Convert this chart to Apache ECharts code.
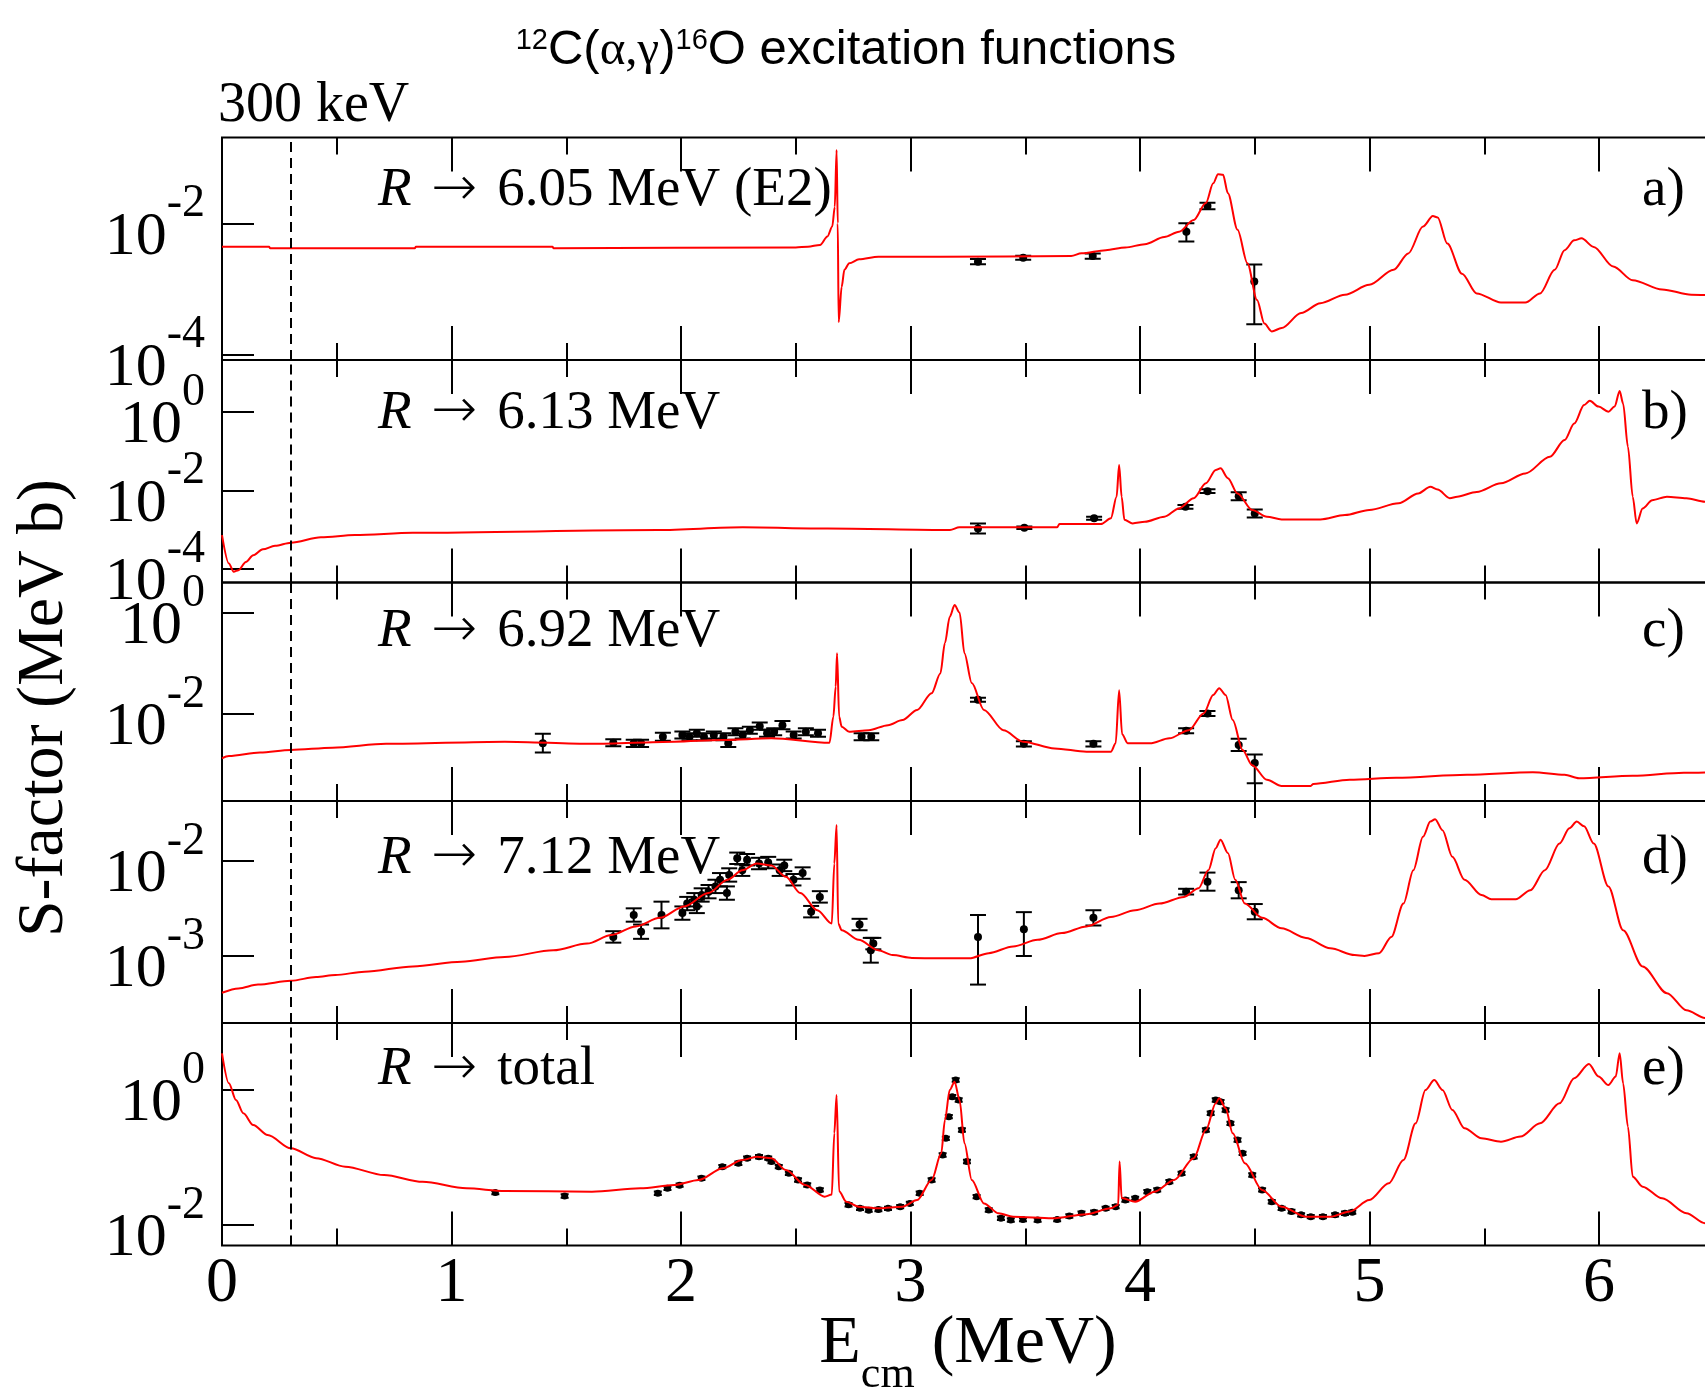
<!DOCTYPE html>
<html>
<head>
<meta charset="utf-8">
<script src="https://cdn.jsdelivr.net/npm/echarts@6/dist/echarts.min.js"></script>
<style>
  html, body { margin: 0; padding: 0; background: #fff; }
  #chart { width: 1705px; height: 1390px; }
</style>
</head>
<body>
<div id="chart"></div>
<script>
// R-matrix excitation functions for 12C(a,g)16O, one panel per final state.
// Curves and data points: [Ecm (MeV), log10 S (MeV b)]; points carry [.., err-, err+] in decades.

const curveA = [
  [0, -2.357], [0.205, -2.357], [0.21, -2.38], [0.84, -2.38], [0.845, -2.357], [1.44, -2.357],
  [1.445, -2.38], [2.5, -2.37], [2.553, -2.357], [2.606, -2.33], [2.638, -2.2], [2.659, -2.05],
  [2.67, -1.75], [2.678, -0.88], [2.683, -2.0], [2.687, -3.51], [2.70, -2.97], [2.712, -2.71],
  [2.733, -2.61], [2.776, -2.55], [2.86, -2.51], [3.13, -2.51], [3.70, -2.50], [3.745, -2.458],
  [3.851, -2.41], [3.936, -2.37], [4.021, -2.32], [4.106, -2.21], [4.17, -2.13], [4.234, -1.95],
  [4.287, -1.69], [4.319, -1.39], [4.34, -1.25], [4.362, -1.26], [4.383, -1.54], [4.425, -2.10],
  [4.468, -2.61], [4.51, -3.17], [4.542, -3.53], [4.574, -3.65], [4.617, -3.60], [4.702, -3.37],
  [4.786, -3.22], [4.893, -3.09], [4.999, -2.94], [5.105, -2.71], [5.169, -2.46], [5.233, -2.05],
  [5.276, -1.89], [5.297, -1.91], [5.339, -2.31], [5.403, -2.77], [5.467, -3.07], [5.573, -3.21],
  [5.679, -3.21], [5.743, -3.07], [5.807, -2.71], [5.85, -2.41], [5.892, -2.26], [5.924, -2.23],
  [5.977, -2.36], [6.062, -2.66], [6.147, -2.87], [6.275, -3.01], [6.402, -3.09], [6.5, -3.10]
];

const curveB = [
  [0, -3.137], [0.03, -3.858], [0.051, -4.07], [0.072, -4.03], [0.104, -3.82], [0.136, -3.65],
  [0.178, -3.50], [0.231, -3.41], [0.30, -3.33], [0.431, -3.196], [0.579, -3.137], [0.832, -3.08],
  [1.9, -3.01], [2.269, -2.94], [2.638, -2.97], [3.172, -3.01], [3.213, -2.94], [3.639, -2.94],
  [3.649, -2.857], [3.83, -2.857], [3.873, -2.71], [3.898, -2.16], [3.909, -1.356], [3.92, -2.16],
  [3.932, -2.75], [3.968, -2.84], [4.021, -2.80], [4.106, -2.67], [4.17, -2.46], [4.234, -2.20],
  [4.287, -1.82], [4.33, -1.48], [4.351, -1.44], [4.383, -1.69], [4.425, -2.08], [4.489, -2.50],
  [4.553, -2.67], [4.617, -2.74], [4.786, -2.74], [4.893, -2.63], [4.999, -2.50], [5.127, -2.33],
  [5.212, -2.08], [5.265, -1.91], [5.297, -1.98], [5.35, -2.20], [5.382, -2.16], [5.467, -2.04],
  [5.573, -1.82], [5.679, -1.57], [5.786, -1.145], [5.85, -0.72], [5.892, -0.30], [5.935, 0.17],
  [5.96, 0.28], [5.998, 0.13], [6.041, 0.0], [6.068, 0.13], [6.09, 0.53], [6.105, 0.21],
  [6.126, -0.89], [6.147, -2.16], [6.164, -2.84], [6.19, -2.46], [6.232, -2.25], [6.296, -2.16],
  [6.381, -2.20], [6.462, -2.29], [6.5, -2.31]
];

const curveC = [
  [0, -2.875], [0.03, -2.83], [0.166, -2.76], [0.30, -2.71], [0.482, -2.665], [0.715, -2.59],
  [1.232, -2.546], [1.612, -2.59], [1.971, -2.546], [2.182, -2.513], [2.394, -2.48], [2.647, -2.57],
  [2.664, -2.05], [2.674, -1.46], [2.68, -0.80], [2.689, -2.05], [2.70, -2.25], [2.733, -2.35],
  [2.818, -2.32], [2.902, -2.22], [2.965, -2.12], [3.029, -1.92], [3.092, -1.59], [3.13, -1.2],
  [3.15, -0.60], [3.171, -0.08], [3.192, 0.15], [3.214, 0.0], [3.235, -0.80], [3.267, -1.39],
  [3.32, -1.92], [3.405, -2.32], [3.49, -2.546], [3.628, -2.68], [3.767, -2.744], [3.873, -2.744],
  [3.894, -2.58], [3.909, -1.53], [3.922, -2.4], [3.947, -2.58], [4.043, -2.58], [4.128, -2.48],
  [4.213, -2.32], [4.277, -1.99], [4.319, -1.625], [4.345, -1.49], [4.373, -1.625], [4.404, -2.12],
  [4.447, -2.71], [4.489, -3.01], [4.553, -3.30], [4.617, -3.42], [4.744, -3.42], [4.755, -3.38],
  [4.914, -3.30], [5.116, -3.26], [5.425, -3.20], [5.712, -3.15], [5.85, -3.20], [5.913, -3.27],
  [6.147, -3.22], [6.37, -3.16], [6.5, -3.15]
];

const curveD = [
  [0, -3.385], [0.072, -3.34], [0.157, -3.30], [0.30, -3.26], [0.41, -3.22], [0.494, -3.20],
  [0.621, -3.165], [0.832, -3.11], [1.043, -3.06], [1.232, -3.01], [1.444, -2.94], [1.591, -2.87],
  [1.697, -2.78], [1.803, -2.69], [1.908, -2.60], [2.014, -2.48], [2.119, -2.34], [2.203, -2.20],
  [2.267, -2.10], [2.33, -2.03], [2.394, -2.05], [2.457, -2.17], [2.52, -2.34], [2.594, -2.52],
  [2.657, -2.66], [2.668, -2.03], [2.678, -1.625], [2.685, -2.66], [2.70, -2.73], [2.774, -2.83],
  [2.859, -2.94], [2.922, -2.99], [3.006, -3.02], [3.172, -3.025], [3.256, -3.025], [3.341, -2.97],
  [3.447, -2.90], [3.554, -2.83], [3.66, -2.76], [3.767, -2.69], [3.873, -2.59], [3.979, -2.52],
  [4.085, -2.45], [4.192, -2.38], [4.255, -2.29], [4.298, -2.10], [4.33, -1.87], [4.351, -1.78],
  [4.383, -1.92], [4.415, -2.20], [4.457, -2.45], [4.532, -2.60], [4.617, -2.71], [4.723, -2.81],
  [4.829, -2.92], [4.935, -2.99], [4.978, -3.0], [5.042, -2.97], [5.095, -2.80], [5.148, -2.45],
  [5.191, -2.10], [5.233, -1.75], [5.265, -1.59], [5.286, -1.565], [5.318, -1.68], [5.361, -1.96],
  [5.414, -2.20], [5.488, -2.36], [5.531, -2.405], [5.637, -2.405], [5.701, -2.31], [5.764, -2.10],
  [5.828, -1.82], [5.871, -1.66], [5.903, -1.59], [5.935, -1.64], [5.977, -1.82], [6.041, -2.27],
  [6.105, -2.73], [6.19, -3.11], [6.296, -3.39], [6.381, -3.57], [6.462, -3.65], [6.5, -3.68]
];

const curveE = [
  [0, 0.544], [0.03, 0.10], [0.061, -0.148], [0.093, -0.345], [0.136, -0.52], [0.199, -0.667],
  [0.30, -0.864], [0.41, -1.01], [0.537, -1.136], [0.706, -1.26], [0.874, -1.36], [1.065, -1.457],
  [1.232, -1.496], [1.612, -1.506], [1.823, -1.457], [1.971, -1.407], [2.077, -1.333], [2.182, -1.16],
  [2.267, -1.037], [2.33, -0.988], [2.394, -1.01], [2.457, -1.185], [2.541, -1.407], [2.626, -1.58],
  [2.657, -1.55], [2.668, -0.64], [2.678, -0.074], [2.689, -1.5], [2.72, -1.655], [2.774, -1.728],
  [2.859, -1.753], [2.965, -1.728], [3.029, -1.63], [3.092, -1.333], [3.134, -0.938], [3.15, -0.444],
  [3.171, 0.0], [3.192, 0.123], [3.214, -0.15], [3.235, -0.79], [3.267, -1.333], [3.32, -1.68],
  [3.384, -1.827], [3.447, -1.877], [3.618, -1.90], [3.767, -1.84], [3.873, -1.753], [3.905, -1.70],
  [3.911, -1.06], [3.92, -1.6], [3.979, -1.655], [4.064, -1.506], [4.149, -1.333], [4.234, -1.01],
  [4.287, -0.593], [4.33, -0.197], [4.345, -0.123], [4.373, -0.27], [4.404, -0.642], [4.457, -1.086],
  [4.532, -1.48], [4.617, -1.728], [4.723, -1.877], [4.829, -1.877], [4.914, -1.80], [4.999, -1.63],
  [5.084, -1.383], [5.148, -1.037], [5.201, -0.494], [5.244, 0.0], [5.282, 0.148], [5.318, 0.0],
  [5.361, -0.296], [5.414, -0.568], [5.488, -0.716], [5.573, -0.765], [5.658, -0.69], [5.743, -0.494],
  [5.828, -0.197], [5.892, 0.173], [5.956, 0.385], [5.998, 0.20], [6.041, 0.074], [6.073, 0.2],
  [6.09, 0.544], [6.105, 0.1], [6.126, -0.543], [6.147, -1.284], [6.19, -1.432], [6.275, -1.605],
  [6.381, -1.827], [6.462, -1.975], [6.5, -2.03]
];

const pointsA = [
  [3.294, -2.586, 0.04, 0.04], [3.491, -2.525, 0.03, 0.03], [3.794, -2.50, 0.04, 0.04],
  [4.202, -2.128, 0.15, 0.13], [4.294, -1.736, 0.05, 0.05], [4.498, -2.89, 0.65, 0.26]
];

const pointsB = [
  [3.294, -2.97, 0.13, 0.13], [3.496, -2.95, 0.03, 0.03], [3.80, -2.71, 0.04, 0.04],
  [4.198, -2.42, 0.05, 0.05], [4.294, -2.02, 0.05, 0.05], [4.43, -2.15, 0.10, 0.10],
  [4.50, -2.59, 0.10, 0.10]
];

const pointsC = [
  [1.398, -2.58, 0.18, 0.19], [1.705, -2.567, 0.07, 0.07], [1.794, -2.58, 0.07, 0.07],
  [1.826, -2.58, 0.07, 0.07], [1.921, -2.45, 0.08, 0.08], [2.006, -2.415, 0.07, 0.07],
  [2.037, -2.45, 0.07, 0.07], [2.069, -2.38, 0.07, 0.07], [2.10, -2.45, 0.07, 0.07],
  [2.143, -2.415, 0.07, 0.07], [2.185, -2.45, 0.07, 0.07], [2.206, -2.58, 0.07, 0.07],
  [2.237, -2.35, 0.07, 0.07], [2.269, -2.415, 0.07, 0.07], [2.30, -2.32, 0.07, 0.07],
  [2.343, -2.24, 0.07, 0.07], [2.375, -2.38, 0.07, 0.07], [2.406, -2.35, 0.07, 0.07],
  [2.442, -2.22, 0.08, 0.08], [2.491, -2.415, 0.07, 0.07], [2.544, -2.35, 0.07, 0.07],
  [2.597, -2.38, 0.07, 0.07], [2.787, -2.45, 0.07, 0.07], [2.829, -2.45, 0.07, 0.07],
  [3.294, -1.72, 0.04, 0.04], [3.494, -2.59, 0.05, 0.05], [3.797, -2.59, 0.05, 0.05],
  [4.201, -2.33, 0.05, 0.05], [4.294, -1.99, 0.05, 0.05], [4.43, -2.61, 0.12, 0.12],
  [4.50, -2.97, 0.40, 0.17]
];

const pointsD = [
  [1.705, -2.80, 0.06, 0.06], [1.794, -2.57, 0.07, 0.07], [1.826, -2.745, 0.075, 0.075],
  [1.915, -2.57, 0.14, 0.14], [2.006, -2.55, 0.07, 0.07], [2.027, -2.45, 0.07, 0.07],
  [2.058, -2.41, 0.07, 0.07], [2.069, -2.48, 0.07, 0.07], [2.09, -2.36, 0.07, 0.07],
  [2.12, -2.325, 0.07, 0.07], [2.15, -2.27, 0.07, 0.07], [2.17, -2.20, 0.07, 0.07],
  [2.20, -2.34, 0.07, 0.07], [2.21, -2.15, 0.07, 0.07], [2.245, -1.975, 0.06, 0.06],
  [2.267, -2.10, 0.06, 0.06], [2.288, -1.99, 0.06, 0.06], [2.34, -2.03, 0.06, 0.06],
  [2.38, -2.02, 0.06, 0.06], [2.43, -2.10, 0.06, 0.06], [2.45, -2.05, 0.06, 0.06],
  [2.49, -2.20, 0.06, 0.06], [2.53, -2.13, 0.06, 0.06], [2.567, -2.535, 0.06, 0.06],
  [2.605, -2.38, 0.06, 0.06], [2.778, -2.67, 0.06, 0.06], [2.827, -2.94, 0.13, 0.13],
  [2.838, -2.87, 0.06, 0.06], [3.294, -2.80, 0.50, 0.23], [3.494, -2.72, 0.28, 0.18],
  [3.797, -2.60, 0.08, 0.08], [4.201, -2.325, 0.03, 0.03], [4.294, -2.22, 0.095, 0.095],
  [4.43, -2.31, 0.085, 0.085], [4.50, -2.535, 0.08, 0.08]
];

const pointsE = [
  [1.191, -1.52], [1.493, -1.57], [1.899, -1.53], [1.941, -1.457], [1.994, -1.41], [2.089, -1.308],
  [2.18, -1.136], [2.25, -1.086], [2.288, -1.01], [2.34, -0.988], [2.38, -1.01], [2.394, -1.06],
  [2.426, -1.136], [2.47, -1.235], [2.51, -1.333], [2.55, -1.407], [2.605, -1.48], [2.73, -1.70],
  [2.78, -1.753], [2.818, -1.78], [2.86, -1.77], [2.902, -1.753], [2.955, -1.728], [2.997, -1.68],
  [3.04, -1.53], [3.092, -1.333], [3.14, -0.963], [3.154, -0.716], [3.167, -0.395], [3.182, -0.1],
  [3.197, 0.148], [3.21, -0.148], [3.224, -0.593], [3.246, -1.06], [3.288, -1.58], [3.341, -1.778],
  [3.394, -1.90], [3.437, -1.926], [3.49, -1.92], [3.554, -1.926], [3.639, -1.92], [3.692, -1.867],
  [3.745, -1.827], [3.80, -1.81], [3.85, -1.753], [3.894, -1.728], [3.936, -1.63], [3.979, -1.605],
  [4.032, -1.506], [4.075, -1.48], [4.128, -1.358], [4.181, -1.235], [4.234, -0.988], [4.287, -0.593],
  [4.308, -0.345], [4.33, -0.148], [4.351, -0.173], [4.373, -0.296], [4.394, -0.494], [4.425, -0.741],
  [4.447, -0.938], [4.489, -1.26], [4.532, -1.48], [4.574, -1.655], [4.617, -1.753], [4.66, -1.80],
  [4.702, -1.85], [4.744, -1.877], [4.797, -1.877], [4.85, -1.85], [4.893, -1.827], [4.925, -1.81]
];

// y-axis extents (decades) and labelled decades per panel
const yRangeExp = [[-4.087, -0.690], [-4.344, 1.316], [-3.718, 0.596], [-3.703, -1.374], [-2.304, 0.993]];
const yTickExp = [[-4, -2], [-4, -2, 0], [-2, 0], [-3, -2], [-2, 0]];
const xTickLabels = [0, 1, 2, 3, 4, 5, 6];
const panelNames = ['6.05 MeV (E2)', '6.13 MeV', '6.92 MeV', '7.12 MeV', 'total'];
const panelLetters = ['a)', 'b)', 'c)', 'd)', 'e)'];
const thresholdE = 0.3;

const curves = [curveA, curveB, curveC, curveD, curveE];
const points = [pointsA, pointsB, pointsC, pointsD, pointsE];

// ---- layout ----
const SERIF = '"Liberation Serif", "Times New Roman", Times, serif';
const SANS = '"Liberation Sans", Arial, Helvetica, sans-serif';
const ARROW_FONT = '"DejaVu Sans", sans-serif';
const PLOT_LEFT = 222;
const PX_PER_MEV = 229.5;
const X_MAX = 7;
const panelEdges = [137.5, 360, 582.5, 801, 1023, 1245.5];
const labelBaselines = [209, 431.7, 650.5, 876.7, 1088];

const pow10 = (e) => Math.pow(10, e);

const grids = [], xAxes = [], yAxes = [], series = [];

// one log axis showing a given set of decades; neighbouring decades go on separate
// axes so the tall "10^n" labels are never thinned out as overlapping
function decadeAxis(i, exps) {
  const vals = exps.map(pow10);
  return {
    type: 'log', logBase: 10, gridIndex: i, position: 'left', offset: 0,
    min: pow10(yRangeExp[i][0]), max: pow10(yRangeExp[i][1]),
    axisLine: { show: false }, splitLine: { show: false }, minorTick: { show: false },
    axisTick: { show: true, inside: true, length: 32, customValues: vals,
      lineStyle: { color: '#000', width: 2 } },
    axisLabel: {
      show: true, customValues: vals, margin: 17,
      showMinLabel: true, showMaxLabel: true, hideOverlap: false,
      formatter: (v) => '{b|10}{s|' + Math.round(Math.log10(v)) + '}',
      rich: {
        b: { fontFamily: SERIF, fontSize: 62, color: '#000', verticalAlign: 'top',
             height: 0, lineHeight: 60, padding: [44, 0, 0, 0] },
        s: { fontFamily: SERIF, fontSize: 46, color: '#000', verticalAlign: 'top',
             height: 0, lineHeight: 60, padding: [11, 0, 0, 0] }
      }
    }
  };
}

for (let i = 0; i < 5; i++) {
  grids.push({
    left: PLOT_LEFT, top: panelEdges[i],
    width: X_MAX * PX_PER_MEV, height: panelEdges[i + 1] - panelEdges[i],
    containLabel: false, outerBoundsMode: 'none',
    show: true, borderColor: '#000', borderWidth: 2, backgroundColor: 'transparent'
  });

  const xCommon = {
    type: 'value', gridIndex: i, min: 0, max: X_MAX, interval: 1,
    axisLine: { show: false }, splitLine: { show: false },
    axisTick: { show: true, inside: true, length: 34, lineStyle: { color: '#000', width: 2 } },
    minorTick: { show: true, splitNumber: 2, length: 17, lineStyle: { color: '#000', width: 2 } },
    minorSplitLine: { show: false }
  };
  xAxes.push(Object.assign({}, xCommon, {
    position: 'bottom',
    axisLabel: i === 4 ? {
      show: true, customValues: xTickLabels, margin: 7,
      showMinLabel: true, showMaxLabel: true,
      fontFamily: SERIF, fontSize: 64, color: '#000'
    } : { show: false }
  }));
  xAxes.push(Object.assign({}, xCommon, { position: 'top', axisLabel: { show: false } }));

  const evenExps = yTickExp[i].filter((_, k) => k % 2 === 0);
  const oddExps = yTickExp[i].filter((_, k) => k % 2 === 1);
  const yIndex = yAxes.length;
  yAxes.push(decadeAxis(i, evenExps));
  if (oddExps.length) yAxes.push(decadeAxis(i, oddExps));

  series.push({
    type: 'custom', xAxisIndex: 2 * i, yAxisIndex: yIndex, z: 2, clip: true,
    data: points[i].map(p => {
      const lo = p.length > 2 ? p[2] : 0.025, hi = p.length > 3 ? p[3] : 0.025;
      return [p[0], pow10(p[1]), pow10(p[1] - lo), pow10(p[1] + hi)];
    }),
    encode: { x: 0, y: [1, 2, 3] },
    renderItem: (params, api) => {
      const c = api.coord([api.value(0), api.value(1)]);
      const lo = api.coord([api.value(0), api.value(2)]);
      const hi = api.coord([api.value(0), api.value(3)]);
      const cap = i === 4 ? 4 : 8;
      const r = i === 4 ? 3.5 : 4;
      const st = { stroke: '#000', lineWidth: 2 };
      return {
        type: 'group', children: [
          { type: 'line', shape: { x1: c[0], y1: lo[1], x2: c[0], y2: hi[1] }, style: st },
          { type: 'line', shape: { x1: c[0] - cap, y1: lo[1], x2: c[0] + cap, y2: lo[1] }, style: st },
          { type: 'line', shape: { x1: c[0] - cap, y1: hi[1], x2: c[0] + cap, y2: hi[1] }, style: st },
          { type: 'circle', shape: { cx: c[0], cy: c[1], r: r }, style: { fill: '#000' } }
        ]
      };
    }
  });

  series.push({
    type: 'line', xAxisIndex: 2 * i, yAxisIndex: yIndex, z: 3,
    data: curves[i].map(p => [p[0], pow10(p[1])]),
    showSymbol: false, symbol: 'none', smooth: 0.3, smoothMonotone: 'x', clip: true,
    lineStyle: { color: '#ff0000', width: 2 },
    emphasis: { disabled: true },
    markLine: {
      silent: true, symbol: ['none', 'none'], animation: false,
      label: { show: false },
      lineStyle: { color: '#000', width: 2, type: [10, 6] },
      emphasis: { disabled: true },
      data: [{ xAxis: thresholdE }]
    }
  });
}

// ---- text ----
function txt(x, y, text, fontSize, family, extra) {
  return {
    type: 'text', x: x, y: y, silent: true,
    style: Object.assign({
      text: text, font: fontSize + 'px ' + family, fill: '#000',
      align: 'left', textAlign: 'left', verticalAlign: 'middle', textVerticalAlign: 'middle'
    }, extra || {})
  };
}

const graphics = [];
graphics.push({
  type: 'text', x: 846, y: 50.7, silent: true,
  style: {
    text: '{sup|12}{n|C(}{gr|α,γ}{n|)}{sup|16}{n|O excitation functions}',
    font: '49px ' + SANS, fill: '#000',
    align: 'center', textAlign: 'center', verticalAlign: 'middle', textVerticalAlign: 'middle',
    rich: {
      n: { fontFamily: SANS, fontSize: 49, verticalAlign: 'bottom' },
      gr: { fontFamily: SERIF, fontSize: 49, verticalAlign: 'bottom' },
      sup: { fontFamily: SANS, fontSize: 29, verticalAlign: 'top' }
    }
  }
});
graphics.push(txt(218, 125 - 0.3375 * 56, '300 keV', 56, SERIF));

for (let i = 0; i < 5; i++) {
  const mid = labelBaselines[i] - 0.3375 * 55;
  const g = txt(378, mid, '{i|R} {a|→} ' + panelNames[i], 55, SERIF);
  g.style.rich = {
    i: { fontFamily: SERIF, fontSize: 55, fontStyle: 'italic' },
    a: { fontFamily: ARROW_FONT, fontSize: 55, fontWeight: 200, padding: [0, 6, 0, 6] }
  };
  graphics.push(g);
  graphics.push(txt(1642, mid, panelLetters[i], 55, SERIF));
}

graphics.push({
  type: 'text', x: 44.7, y: 708, rotation: Math.PI / 2, silent: true,
  style: {
    text: 'S-factor (MeV b)', font: '66px ' + SERIF, fill: '#000',
    align: 'center', textAlign: 'center', verticalAlign: 'middle', textVerticalAlign: 'middle'
  }
});
graphics.push({
  type: 'text', x: 968, y: 1309.7, silent: true,
  style: {
    text: '{e|E}{c|cm}{e| (MeV)}', font: '68px ' + SERIF, fill: '#000',
    align: 'center', textAlign: 'center', verticalAlign: 'top', textVerticalAlign: 'top',
    rich: {
      e: { fontFamily: SERIF, fontSize: 68, verticalAlign: 'top' },
      c: { fontFamily: SERIF, fontSize: 44, verticalAlign: 'top', padding: [44, 0, 0, 0] }
    }
  }
});

const chart = echarts.init(document.getElementById('chart'), null, { renderer: 'canvas' });
chart.setOption({
  backgroundColor: '#fff',
  animation: false,
  grid: grids,
  xAxis: xAxes,
  yAxis: yAxes,
  series: series,
  graphic: graphics
});
</script>
</body>
</html>
